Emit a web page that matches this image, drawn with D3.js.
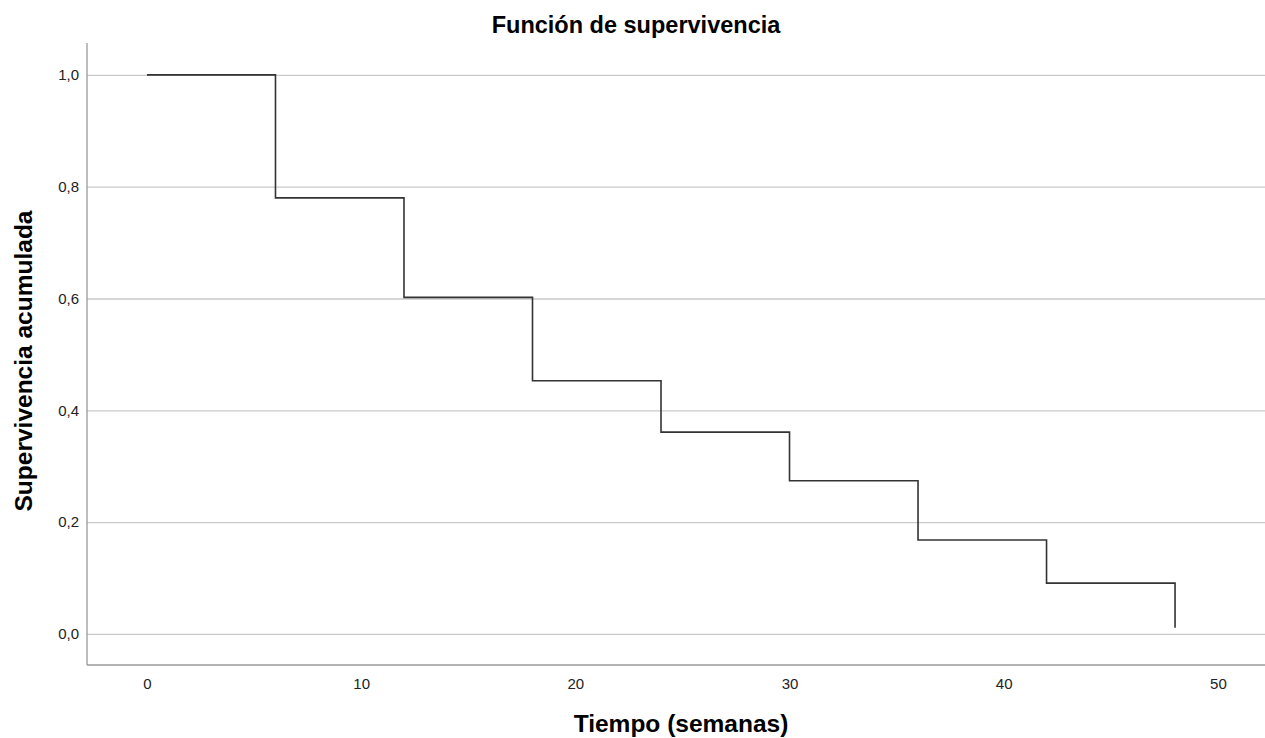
<!DOCTYPE html>
<html>
<head>
<meta charset="utf-8">
<script src="https://cdnjs.cloudflare.com/ajax/libs/d3/7.8.5/d3.min.js"></script>
<style>
  body { margin: 0; background: #fff; }
  svg { display: block; font-family: "Liberation Sans", Arial, Helvetica, sans-serif; }
  .axis text { font-size: 15px; fill: #222; }
  .title { font-size: 23.5px; font-weight: bold; fill: #000; }
  .axis-title { font-size: 24.5px; font-weight: bold; fill: #000; }
</style>
</head>
<body>
<div id="chart"></div>
<script>
// Kaplan-Meier steps
var weeks = [0, 6, 12, 18, 24, 30, 36, 42, 48];
var survival = [1.0, 0.780, 0.602, 0.453, 0.361, 0.274, 0.168, 0.091, 0.011];
var xTicks = [0, 10, 20, 30, 40, 50];
var yTicks = [0, 0.2, 0.4, 0.6, 0.8, 1.0];

var totalWidth = 1265, totalHeight = 738;
var margin = { top: 43, left: 87, right: 0, bottom: 73 },
  width = totalWidth - margin.left - margin.right,
  height = totalHeight - margin.top - margin.bottom;

var svg = d3.select("#chart")
  .append("svg")
  .attr("width", totalWidth)
  .attr("height", totalHeight);

var g = svg.append("g")
  .attr("transform", "translate(" + margin.left + "," + margin.top + ")");

var xPositionScale = d3.scaleLinear()
  .domain([-2.8, 52.2])
  .range([0, width]);

var yPositionScale = d3.scaleLinear()
  .domain([-0.0555, 1.057])
  .range([height, 0]);

// gridlines + y labels
var yAxis = d3.axisLeft(yPositionScale)
  .tickValues(yTicks)
  .tickFormat(function(d) { return d3.format(".1f")(d).replace(".", ","); })
  .tickSize(-width)
  .tickPadding(8);

g.append("g")
  .attr("class", "axis y-axis")
  .call(yAxis);

g.selectAll(".y-axis .tick line")
  .attr("stroke", "#c9c9c9")
  .attr("stroke-width", 1.3);
g.select(".y-axis .domain").remove();

var xAxis = d3.axisBottom(xPositionScale)
  .tickValues(xTicks)
  .tickSize(0)
  .tickPadding(13);

g.append("g")
  .attr("class", "axis x-axis")
  .attr("transform", "translate(0," + height + ")")
  .call(xAxis);
g.select(".x-axis .domain").remove();

// frame lines: left and bottom
g.append("line")
  .attr("x1", 0).attr("x2", 0)
  .attr("y1", 0).attr("y2", height)
  .attr("stroke", "#9a9a9a")
  .attr("stroke-width", 1.3);
g.append("line")
  .attr("x1", 0).attr("x2", width)
  .attr("y1", height).attr("y2", height)
  .attr("stroke", "#9a9a9a")
  .attr("stroke-width", 1.3);

// survival step line
var points = weeks.map(function(w, i) { return [w, survival[i]]; });
var line = d3.line()
  .x(function(d) { return xPositionScale(d[0]); })
  .y(function(d) { return yPositionScale(d[1]); })
  .curve(d3.curveStepAfter);

g.append("path")
  .datum(points)
  .attr("d", line)
  .attr("fill", "none")
  .attr("stroke", "#333")
  .attr("stroke-width", 1.6);

// titles
svg.append("text")
  .attr("class", "title")
  .attr("x", 636)
  .attr("y", 33)
  .attr("text-anchor", "middle")
  .text("Función de supervivencia");

svg.append("text")
  .attr("class", "axis-title")
  .attr("x", 681)
  .attr("y", 732)
  .attr("text-anchor", "middle")
  .text("Tiempo (semanas)");

svg.append("text")
  .attr("class", "axis-title")
  .attr("transform", "translate(32,361) rotate(-90)")
  .attr("text-anchor", "middle")
  .text("Supervivencia acumulada");
</script>
</body>
</html>
